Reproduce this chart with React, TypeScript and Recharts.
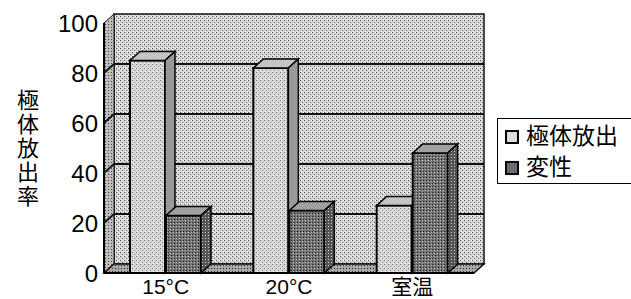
import { BarChart, Bar, XAxis, YAxis, ReferenceArea } from 'recharts';

const categories = ['15°C', '20°C', '室温'];
const polarBody = [85, 82, 27];
const denatured = [23, 25, 48];
const yTicks = [0, 20, 40, 60, 80, 100];
const seriesNames = ['極体放出', '変性'];
const yLabel = '極体放出率';

const data = categories.map((name, i) => ({ name, polar: polarBody[i], denat: denatured[i] }));

const DX = 10;
const DY = 9;
const FONT = '"Liberation Sans", "Noto Sans CJK JP", sans-serif';

// back wall, side wall, floor and the grid lines drawn on them
const walls = (p: any) => {
  const { x, y, width, height } = p;
  const r = x + width;
  const b = y + height;
  const max = yTicks[yTicks.length - 1];
  return (
    <g>
      <rect x={x + DX} y={y - DY} width={width} height={height} fill="url(#wallPat)" stroke="#111" strokeWidth={1.5} />
      <polygon points={`${x},${y} ${x + DX},${y - DY} ${x + DX},${b - DY} ${x},${b}`} fill="url(#sidePat)" stroke="#111" strokeWidth={1} />
      {yTicks.slice(1, -1).map((t) => {
        const ty = b - (height * t) / max;
        return (
          <g key={t}>
            <line x1={x + DX} y1={ty - DY} x2={r + DX} y2={ty - DY} stroke="#111" strokeWidth={1.8} />
            <line x1={x} y1={ty} x2={x + DX} y2={ty - DY} stroke="#111" strokeWidth={1.8} />
          </g>
        );
      })}
      <polygon points={`${x},${b} ${x + DX},${b - DY} ${r + DX},${b - DY} ${r},${b}`} fill="url(#floorPat)" stroke="#111" strokeWidth={1.5} />
    </g>
  );
};

const makeBox = (front: string, top: string, side: string) => (p: any) => {
  const { x, y, width, height } = p;
  if (height == null || height <= 0) return <g />;
  const r = x + width;
  const b = y + height;
  return (
    <g>
      <rect x={x} y={y} width={width} height={height} fill={front} stroke="#000" strokeWidth={2} />
      <polygon points={`${x},${y} ${x + DX},${y - DY} ${r + DX},${y - DY} ${r},${y}`} fill={top} stroke="#000" strokeWidth={1.5} />
      <polygon points={`${r},${y} ${r + DX},${y - DY} ${r + DX},${b - DY} ${r},${b}`} fill={side} stroke="#000" strokeWidth={1.5} />
    </g>
  );
};

const yAxisLabel = (p: any) => {
  const vb = p.viewBox || {};
  const cy = (vb.y || 0) + (vb.height || 0) / 2;
  const step = 24;
  const start = cy - (step * (yLabel.length - 1)) / 2;
  return (
    <g>
      {yLabel.split('').map((c, i) => (
        <text key={i} x={28} y={start + i * step} textAnchor="middle" dominantBaseline="central" fontSize={22} fill="#000" fontFamily={FONT}>
          {c}
        </text>
      ))}
    </g>
  );
};

export default function App() {
  return (
    <div style={{ position: 'relative', width: 631, height: 299, background: '#fff', overflow: 'hidden' }}>
      <style>{`body{margin:0}`}</style>
      <BarChart width={631} height={299} data={data} margin={{ top: 23, right: 157, bottom: 0, left: 0 }} barSize={35} barGap={1}>
        <defs>
          <pattern id="wallPat" width="4" height="4" patternUnits="userSpaceOnUse">
            <rect width="4" height="4" fill="#d2d2d2" />
            <rect x="0" y="0" width="1" height="1" fill="#555" />
            <rect x="2" y="2" width="1" height="1" fill="#777" />
            <rect x="3" y="0" width="1" height="1" fill="#fff" />
            <rect x="1" y="3" width="1" height="1" fill="#fff" />
          </pattern>
          <pattern id="sidePat" width="3" height="3" patternUnits="userSpaceOnUse">
            <rect width="3" height="3" fill="#bdbdbd" />
            <rect x="0" y="0" width="1" height="1" fill="#444" />
          </pattern>
          <pattern id="floorPat" width="3" height="3" patternUnits="userSpaceOnUse">
            <rect width="3" height="3" fill="#a6a6a6" />
            <rect x="1" y="1" width="1" height="1" fill="#333" />
          </pattern>
          <pattern id="lightFront" width="4" height="4" patternUnits="userSpaceOnUse">
            <rect width="4" height="4" fill="#d6d6d6" />
            <rect x="0" y="0" width="1" height="1" fill="#777" />
            <rect x="2" y="2" width="1" height="1" fill="#888" />
            <rect x="1" y="3" width="1" height="1" fill="#fff" />
          </pattern>
          <pattern id="darkFront" width="3" height="3" patternUnits="userSpaceOnUse">
            <rect width="3" height="3" fill="#747474" />
            <rect x="0" y="0" width="1" height="1" fill="#222" />
            <rect x="2" y="1" width="1" height="1" fill="#bbb" />
          </pattern>
          <pattern id="darkSide" width="3" height="3" patternUnits="userSpaceOnUse">
            <rect width="3" height="3" fill="#555" />
            <rect x="1" y="1" width="1" height="1" fill="#ccc" />
          </pattern>
        </defs>
        <ReferenceArea y1={0} y2={100} shape={walls} ifOverflow="visible" />
        <XAxis dataKey="name" height={26} axisLine={{ stroke: '#000', strokeWidth: 2 }} tickLine={false} tickSize={0} tickMargin={6} tick={{ fontSize: 21, fill: '#000', fontFamily: FONT }} />
        <YAxis domain={[0, 100]} ticks={yTicks} width={104} axisLine={{ stroke: '#000', strokeWidth: 2 }} tickLine={false} tickSize={0} tickMargin={6} tick={{ fontSize: 24, fill: '#000', fontFamily: FONT }} label={{ content: yAxisLabel }} />
        <Bar dataKey="polar" name={seriesNames[0]} isAnimationActive={false} shape={makeBox('url(#lightFront)', '#c4c4c4', '#999')} />
        <Bar dataKey="denat" name={seriesNames[1]} isAnimationActive={false} shape={makeBox('url(#darkFront)', '#a0a0a0', 'url(#darkSide)')} />
      </BarChart>
      <div style={{ position: 'absolute', left: 497, top: 118, width: 150, height: 66, border: '1.5px solid #000', boxSizing: 'border-box', padding: '2px 0 0 7px', fontFamily: FONT, fontSize: 23, lineHeight: '31px', color: '#000', background: '#fff' }}>
        {seriesNames.map((n, i) => (
          <div key={n} style={{ display: 'flex', alignItems: 'center' }}>
            <span style={{ display: 'inline-block', width: 10, height: 10, border: '2px solid #000', backgroundColor: i === 0 ? '#dcdcdc' : '#6e6e6e', marginRight: 7 }} />
            {n}
          </div>
        ))}
      </div>
    </div>
  );
}
